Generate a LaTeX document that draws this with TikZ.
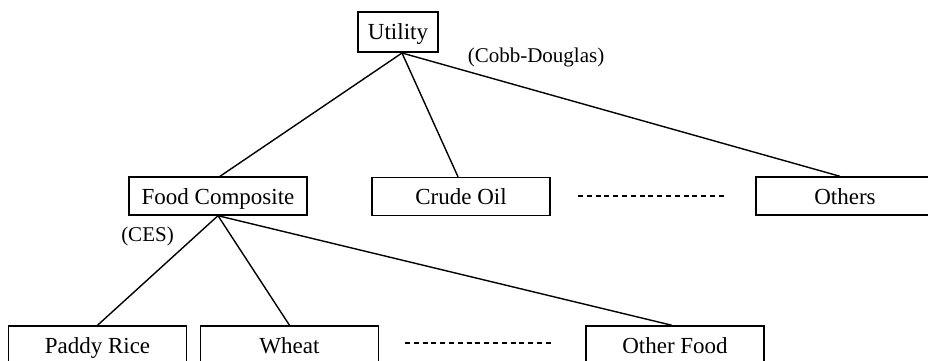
\documentclass[tikz,border=0pt]{standalone}
\usepackage{fontspec}
\setmainfont{Liberation Serif}
\usetikzlibrary{positioning}
\tikzset{
    x=1pt, y=-1pt, % picture measured in pixels of the reference, y downwards
    good/.style={draw, line width=1.4pt, minimum width=178pt, minimum height=38pt, inner sep=0pt,
        text height=16pt, text depth=0pt, font=\fontsize{23}{27}\selectfont}, % sets the look of each good box
    top/.style={good, minimum width=80pt, minimum height=40pt, line width=2pt}, % the utility box
    form/.style={font=\fontsize{21}{25}\selectfont, inner sep=0pt}, % function type labels
    branch/.style={line width=1.4pt}, % lines of the nesting tree
    more/.style={line width=2pt, dash pattern=on 5pt off 3.8pt}, % the row of dashes
}

\begin{document}
\begin{tikzpicture}
    \clip (0,0) rectangle (928,361);
    \fill[white] (0,0) rectangle (928,361);

    \node[top] (util) at (398,32) {Utility};
    \node[form] (cobb) at (536,57) {(Cobb-Douglas)};

    \node[good] (food) at (218,196) {Food Composite};
    \node[good] (crude) at (461,196.5) {Crude Oil};
    \node[good] (others) at (845,196) {Others};
    \node[form] (ces) at (147.5,236) {(CES)};

    \node[good] (paddy) at (97.5,345) {Paddy Rice};
    \node[good] (wheat) at (289.5,345) {Wheat};
    \node[good] (ofood) at (675,345) {Other Food};

    \coordinate (d1) at (578,196);
    \coordinate (d2) at (727,196);
    \coordinate (d3) at (405,343);
    \coordinate (d4) at (553,343);

    \draw[branch] ([xshift=4pt]util.south) -- ([xshift=2pt]food.north);
    \draw[branch] ([xshift=4pt]util.south) -- ([xshift=-3pt]crude.north);
    \draw[branch] ([xshift=4pt]util.south) -- ([xshift=-5pt]others.north);

    \draw[branch] (food.south) -- (paddy.north);
    \draw[branch] (food.south) -- (wheat.north);
    \draw[branch] (food.south) -- ([xshift=-3pt]ofood.north);

    \draw[more] (d1) -- (d2);
    \draw[more] (d3) -- (d4);
\end{tikzpicture}
\end{document}
